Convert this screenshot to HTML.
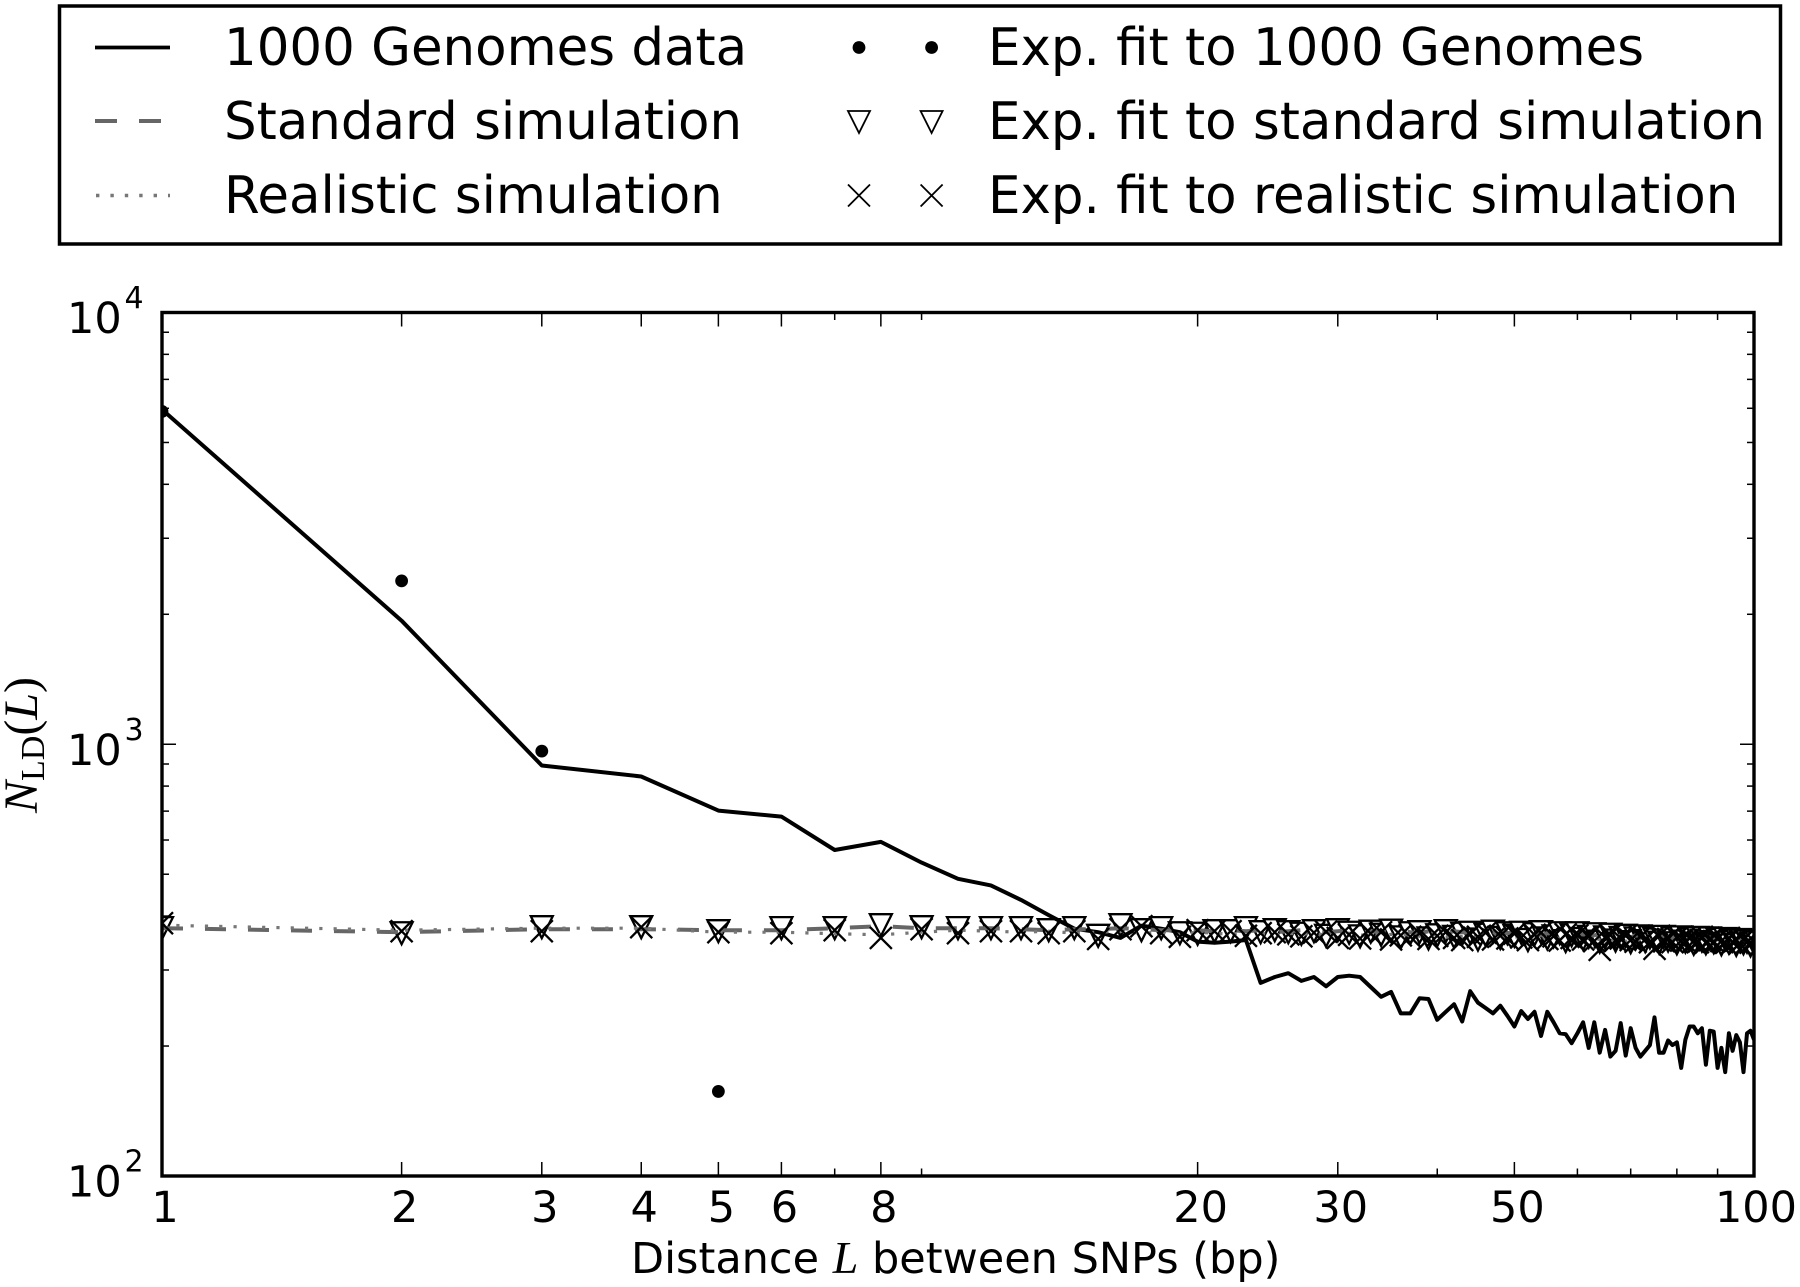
<!DOCTYPE html>
<html lang="en">
<head>
<meta charset="utf-8">
<title>NLD versus distance between SNPs</title>
<style>
html,body{margin:0;padding:0;background:#fff;width:1800px;height:1287px;overflow:hidden}
svg{display:block}
text{font-family:"DejaVu Sans","Liberation Sans",sans-serif;fill:#000}
.math{font-family:"Liberation Serif",serif}
</style>
</head>
<body>
<svg id="chart" xmlns="http://www.w3.org/2000/svg" width="1800" height="1287" viewBox="0 0 1800 1287">
  <rect x="0" y="0" width="1800" height="1287" fill="#fff"/>
  <defs><clipPath id="plot-clip"><rect x="162" y="312.5" width="1592" height="863.5"/></clipPath></defs>

  <g>
    <rect x="59.5" y="6" width="1721" height="238" fill="#fff" stroke="#000" stroke-width="3.5"/>
    <line x1="95" y1="47.5" x2="170" y2="47.5" stroke="#000" stroke-width="3.8"/>
    <line x1="95" y1="121" x2="170" y2="121" stroke="#666" stroke-width="4" stroke-dasharray="22 22"/>
    <line x1="96" y1="195.5" x2="170" y2="195.5" stroke="#777" stroke-width="3.4" stroke-dasharray="3.4 11"/>
    <text x="224" y="65" font-size="51.4">1000 Genomes data</text>
    <text x="224" y="139" font-size="51.4">Standard simulation</text>
    <text x="224" y="213" font-size="51.4">Realistic simulation</text>
    <circle cx="859" cy="47.5" r="6.4" fill="#000"/>
    <circle cx="931.6" cy="47.5" r="6.4" fill="#000"/>
    <path d="M848 111H870L859 133Z" fill="none" stroke="#000" stroke-width="1.8"/>
    <path d="M920.6 111H942.6L931.6 133Z" fill="none" stroke="#000" stroke-width="1.8"/>
    <path d="M848 184.5L870 206.5M870 184.5L848 206.5" fill="none" stroke="#000" stroke-width="1.8"/>
    <path d="M920.6 184.5L942.6 206.5M942.6 184.5L920.6 206.5" fill="none" stroke="#000" stroke-width="1.8"/>
    <text x="988" y="65" font-size="51.4">Exp. fit to 1000 Genomes</text>
    <text x="988" y="139" font-size="51.4">Exp. fit to standard simulation</text>
    <text x="988" y="213" font-size="51.4">Exp. fit to realistic simulation</text>
  </g>

  <g id="series" clip-path="url(#plot-clip)"></g>
  <g id="axes"></g>

  <text x="631" y="1273" font-size="43">Distance <tspan class="math" font-style="italic" font-size="46">L</tspan> between SNPs (bp)</text>
  <text class="math" transform="translate(37,813) rotate(-90)" font-size="48"><tspan font-style="italic">N</tspan><tspan font-size="34" dy="7">LD</tspan><tspan dy="-7">(</tspan><tspan font-style="italic">L</tspan><tspan>)</tspan></text>
</svg>
<script>
var genomesValues = [5960,1933,893,842,702,680,569,594,532,488,471,436,402,374,367,356,380,374,367,349,347,349,352,280,289,295,283,289,275,289,291,289,274,260,267,238,238,258,257,230,240,250,228,268,252,245,238,248,235,222,241,231,240,211,240,227,214,213,203,214,227,198,227,193,218,189,195,226,190,220,198,189,195,201,233,193,193,206,201,204,178,207,222,222,214,220,181,217,216,178,198,174,214,195,212,204,174,214,217,207];
var standardValues = [375,367,373,373,371,371,375,379,375,375,375,373,371,373,373,375,373,371,371,371,369,371,369,371,367,369,371,369,367,369,371,367,369,367,369,371,367,365,369,367,365,369,367,365,367,365,367,363,365,367,365,363,365,361,365,363,361,363,365,361,363,359,361,363,359,361,363,359,361,357,361,359,357,359,361,357,359,357,355,359,357,355,357,359,355,357,353,357,355,353,355,357,353,355,351,355,353,351,353,351];
var realisticValues = [381,371,375,375,367,367,364,362,367,371,369,367,369,365,367,369,365,367,363,367,365,363,367,365,361,365,363,365,361,363,365,361,363,359,363,361,363,359,361,363,357,361,359,361,357,361,359,355,359,357,359,355,357,359,353,357,355,357,353,355,357,351,355,353,355,351,353,355,349,353,351,353,349,351,353,347,351,349,351,347,349,351,345,349,347,349,345,347,349,343,347,345,347,343,345,347,341,345,343,341];
var fitGenomesValues = [5900,2390,964,386,157];
var fitStandardValues = [375,365,377,377,369,375,375,381,377,375,375,375,371,375,360,381,371,375,365,364,369,369,375,367,371,367,364,369,360,371,366,359,368,362,370,357,365,367,355,361,369,358,364,366,353,362,368,356,365,360,366,352,363,367,355,359,365,350,361,365,354,358,363,349,357,362,351,356,360,348,355,359,350,357,353,347,358,351,355,346,357,349,353,345,356,351,346,355,348,352,344,354,347,351,343,352,346,349,342,347];
var fitRealisticValues = [385,369,369,377,367,365,371,356,373,365,369,369,365,369,354,373,379,365,358,371,369,369,360,365,367,363,359,366,368,356,362,355,364,367,353,361,358,365,354,360,367,356,352,363,358,366,353,360,355,364,357,352,362,366,354,359,351,363,356,361,353,358,350,334,357,362,351,355,360,352,349,358,353,348,336,360,350,354,348,357,351,349,355,350,348,358,347,352,349,354,350,347,356,348,351,346,353,348,347,350];

var xTickValues = [1,2,3,4,5,6,8,20,30,50,100];
var xTickLabels = ["1","2","3","4","5","6","8","20","30","50","100"];
var xMinorValues = [7,9,40,60,70,80,90];
var yDecades = [100,1000,10000];
var yExponents = ["2","3","4"];
var yMinorMultipliers = [2,3,4,5,6,7,8,9];

var PLOT_LEFT = 162, PLOT_RIGHT = 1754, PLOT_TOP = 312.5, PLOT_BOTTOM = 1176;
var SVG_NS = "http://www.w3.org/2000/svg";

function xScale(v) { return PLOT_LEFT + (PLOT_RIGHT - PLOT_LEFT) * Math.log10(v) / 2; }
function yScale(v) { return PLOT_BOTTOM - (PLOT_BOTTOM - PLOT_TOP) * (Math.log10(v) - 2) / 2; }
function make(tag) { return document.createElementNS(SVG_NS, tag); }
function pointsOf(values) {
  return values.map(function (v, i) { return xScale(i + 1).toFixed(1) + "," + yScale(v).toFixed(1); }).join(" ");
}

var seriesGroup = document.getElementById("series");
var axesGroup = document.getElementById("axes");

function drawLine(values, name, stroke, width, dash) {
  var el = make("polyline");
  
  
  el.setAttribute("points", pointsOf(values));
  el.setAttribute("fill", "none");
  el.setAttribute("stroke", stroke);
  el.setAttribute("stroke-width", width);
  el.setAttribute("stroke-linejoin", "round");
  if (dash) { el.setAttribute("stroke-dasharray", dash); }
  seriesGroup.appendChild(el);
}

fitGenomesValues.forEach(function (v, i) {
  var el = make("circle");
  
  
  el.setAttribute("cx", xScale(i + 1));
  el.setAttribute("cy", yScale(v));
  el.setAttribute("r", 6.4);
  el.setAttribute("fill", "#000");
  seriesGroup.appendChild(el);
});

fitStandardValues.forEach(function (v, i) {
  var cx = xScale(i + 1), cy = yScale(v);
  var el = make("path");
  
  
  el.setAttribute("d", "M" + (cx - 11) + " " + (cy - 11) + "H" + (cx + 11) + "L" + cx + " " + (cy + 11) + "Z");
  el.setAttribute("fill", "#fff");
  el.setAttribute("stroke", "#000");
  el.setAttribute("stroke-width", 2.3);
  seriesGroup.appendChild(el);
});

drawLine(genomesValues, "genomes-line", "#000", 4, null);
drawLine(standardValues, "standard-simulation-line", "#666", 4, "21 22");
drawLine(realisticValues, "realistic-simulation-line", "#777", 3.2, "3.2 11.1");

fitRealisticValues.forEach(function (v, i) {
  var cx = xScale(i + 1), cy = yScale(v);
  var el = make("path");
  
  
  el.setAttribute("d", "M" + (cx - 11) + " " + (cy - 11) + "L" + (cx + 11) + " " + (cy + 11) + "M" + (cx + 11) + " " + (cy - 11) + "L" + (cx - 11) + " " + (cy + 11));
  el.setAttribute("fill", "none");
  el.setAttribute("stroke", "#000");
  el.setAttribute("stroke-width", 2.3);
  seriesGroup.appendChild(el);
});

function drawTick(x1, y1, x2, y2, name) {
  var el = make("line");
  
  
  el.setAttribute("x1", x1);
  el.setAttribute("y1", y1);
  el.setAttribute("x2", x2);
  el.setAttribute("y2", y2);
  el.setAttribute("stroke", "#000");
  el.setAttribute("stroke-width", 1.5);
  axesGroup.appendChild(el);
}

function drawXTicks(v, len, name) {
  var x = xScale(v);
  drawTick(x, PLOT_BOTTOM, x, PLOT_BOTTOM - len, name);
  drawTick(x, PLOT_TOP, x, PLOT_TOP + len, name);
}
xTickValues.forEach(function (v, i) {
  if (v > 1 && v < 100) { drawXTicks(v, 14, "x-major-tick"); }
  var label = make("text");
  
  
  label.setAttribute("x", xScale(v) + (v === 100 ? 2 : 3));
  label.setAttribute("y", 1222);
  label.setAttribute("font-size", 43);
  label.setAttribute("text-anchor", "middle");
  label.textContent = xTickLabels[i];
  axesGroup.appendChild(label);
});
xMinorValues.forEach(function (v) { drawXTicks(v, 7.5, "x-minor-tick"); });

function drawYTicks(v, len, name) {
  var y = yScale(v);
  drawTick(PLOT_LEFT, y, PLOT_LEFT + len, y, name);
  drawTick(PLOT_RIGHT, y, PLOT_RIGHT - len, y, name);
}
yDecades.forEach(function (d, i) {
  if (d === 1000) { drawYTicks(d, 14, "y-major-tick"); }
  if (d < 10000) {
    yMinorMultipliers.forEach(function (m) { drawYTicks(d * m, 7, "y-minor-tick"); });
  }
  var y = yScale(d);
  var base = make("text");
  
  
  base.setAttribute("x", 67);
  base.setAttribute("y", y + 20.5);
  base.setAttribute("font-size", 43);
  base.textContent = "10";
  var sup = make("tspan");
  
  
  sup.setAttribute("x", 124.5);
  sup.setAttribute("y", y - 4.5);
  sup.setAttribute("font-size", 30);
  sup.textContent = yExponents[i];
  base.appendChild(sup);
  axesGroup.appendChild(base);
});

var frame = make("rect");


frame.setAttribute("x", PLOT_LEFT);
frame.setAttribute("y", PLOT_TOP);
frame.setAttribute("width", PLOT_RIGHT - PLOT_LEFT);
frame.setAttribute("height", PLOT_BOTTOM - PLOT_TOP);
frame.setAttribute("fill", "none");
frame.setAttribute("stroke", "#000");
frame.setAttribute("stroke-width", 3.4);
axesGroup.appendChild(frame);
</script>
</body>
</html>
